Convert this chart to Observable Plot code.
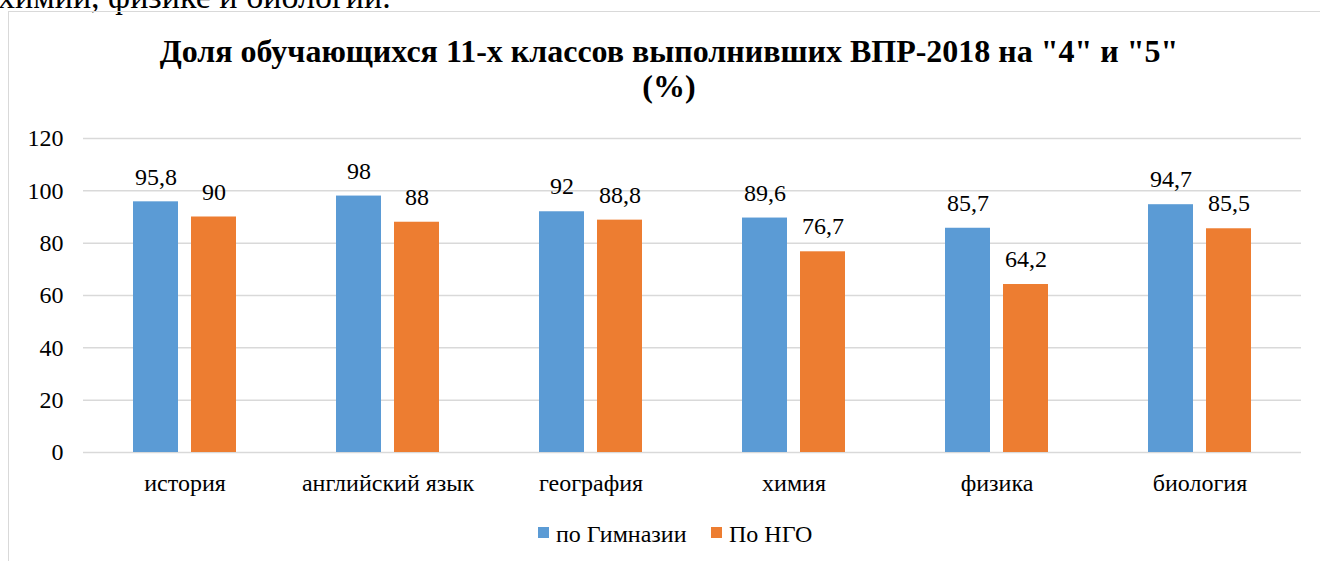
<!DOCTYPE html>
<html>
<head>
<meta charset="utf-8">
<script src="https://cdn.jsdelivr.net/npm/d3@7"></script>
<script src="https://cdn.jsdelivr.net/npm/@observablehq/plot@0.6"></script>
<style>
  html, body { margin: 0; padding: 0; background: #fff; overflow: hidden; }
  body { width: 1320px; height: 561px; position: relative; font-family: "Liberation Serif", "Times New Roman", serif; color: #000; }
  #doctext { position: absolute; left: -2px; top: -20px; font-size: 34px; line-height: 34px; white-space: nowrap; }
  #frame { position: absolute; left: 8px; top: 11px; width: 1322px; height: 600px; border: 1.5px solid #d9d9d9; box-sizing: border-box; }
  #title { position: absolute; left: 8px; width: 1322px; top: 34px; text-align: center; font-weight: bold; font-size: 32px; line-height: 35px; }
  #chart { position: absolute; left: 0; top: 0; }
  #legend { position: absolute; top: 522px; left: 0; width: 1320px; font-size: 24px; line-height: 24px; }
  .item { position: absolute; white-space: nowrap; }
  .sw { position: absolute; width: 11px; height: 11px; top: 5px; }
</style>
</head>
<body>
<div id="doctext">химии, физике и биологии.</div>
<div id="frame"></div>
<div id="chart"></div>
<div id="title">Доля обучающихся 11-х классов выполнивших ВПР-2018 на "4" и "5"<br>(%)</div>
<div id="legend"></div>
<script>
const categories = ["история", "английский язык", "география", "химия", "физика", "биология"];
const seriesNames = ["по Гимназии", "По НГО"];
const gymnasium = [95.8, 98, 92, 89.6, 85.7, 94.7];
const ngo = [90, 88, 88.8, 76.7, 64.2, 85.5];
const yTicks = [0, 20, 40, 60, 80, 100, 120];
const colors = ["#5b9bd5", "#ed7d31"];

const rows = [];
categories.forEach((c, i) => {
  rows.push({category: c, series: seriesNames[0], value: gymnasium[i]});
  rows.push({category: c, series: seriesNames[1], value: ngo[i]});
});
const fmt = v => String(v).replace(".", ",");

const chart = Plot.plot({
  width: 1320,
  height: 510,
  marginLeft: 82,
  marginRight: 18,
  marginTop: 138,
  marginBottom: 58,
  style: {fontFamily: "'Liberation Serif', 'Times New Roman', serif", fontSize: "24px", color: "#000", background: "transparent"},
  fx: {domain: categories, padding: 0, label: null, axis: null},
  x: {domain: seriesNames, paddingInner: 0.224, paddingOuter: 0.862, axis: null},
  y: {domain: [0, 120], label: null, axis: null},
  color: {domain: seriesNames, range: colors},
  marks: [
    Plot.gridY(yTicks, {stroke: "#d9d9d9", strokeOpacity: 1, strokeWidth: 1.5}),
    Plot.axisY({ticks: yTicks, tickSize: 0, tickPadding: 20, label: null, fontSize: 24}),
    Plot.axisFx({anchor: "bottom", tickSize: 0, tickPadding: 21, label: null, fontSize: 24}),
    Plot.barY(rows, {fx: "category", x: "series", y: "value", fill: "series"}),
    Plot.text(rows, {fx: "category", x: "series", y: "value", text: d => fmt(d.value), dy: -25, fontSize: 24, fill: "#000"})
  ]
});
document.getElementById("chart").appendChild(chart);

const legend = document.getElementById("legend");
const legendPos = [{sw: 538, tx: 556}, {sw: 711, tx: 729}];
seriesNames.forEach((s, i) => {
  const sw = document.createElement("div");
  sw.className = "sw";
  sw.style.left = legendPos[i].sw + "px";
  sw.style.background = colors[i];
  legend.appendChild(sw);
  const t = document.createElement("div");
  t.className = "item";
  t.style.left = legendPos[i].tx + "px";
  t.textContent = s;
  legend.appendChild(t);
});
</script>
</body>
</html>
